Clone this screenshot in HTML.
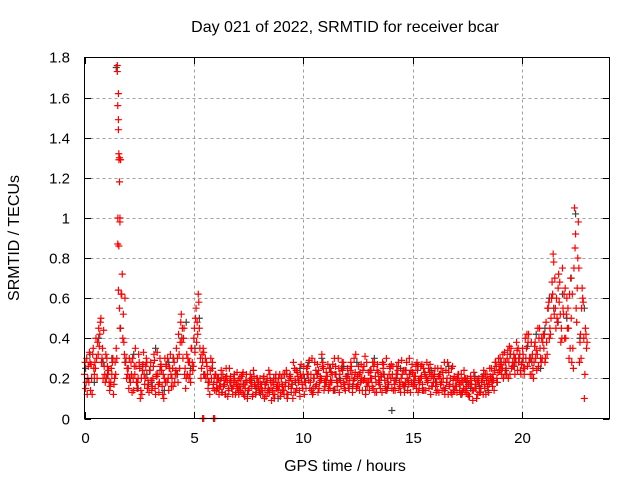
<!DOCTYPE html>
<html><head><meta charset="utf-8"><style>
body{margin:0;background:#fff;}
svg{display:block;font-family:"Liberation Sans",sans-serif;}
</style></head><body>
<svg id="chart" width="640" height="480" viewBox="0 0 640 480">
<rect width="640" height="480" fill="#fff"/>
<g id="grid"></g>
<g id="gray"></g>
<g id="red"></g>
<rect x="84.5" y="57.5" width="525" height="361" fill="none" stroke="#000" stroke-width="1"/>
<g id="ticks"></g>
<text x="345" y="32" font-size="16" text-anchor="middle">Day 021 of 2022, SRMTID for receiver bcar</text>
<text x="345" y="471" font-size="16" text-anchor="middle">GPS time / hours</text>
<text x="19" y="238" font-size="16" text-anchor="middle" transform="rotate(-90 19 238)">SRMTID / TECUs</text>
</svg>
<script>
const xTicks=[0,5,10,15,20];
const xTickLabels=["0","5","10","15","20"];
const yTicks=[0,0.2,0.4,0.6,0.8,1,1.2,1.4,1.6,1.8];
const yTickLabels=["0","0.2","0.4","0.6","0.8","1","1.2","1.4","1.6","1.8"];
const stepA=0.1;
const seriesA=[.22,.30,.18,.27,.35,.25,.38,.42,.30,.26,
.20,.24,.18,.30,.28,1.76,.55,.62,.38,.30,
.25,.18,.30,.22,.15,.28,.20,.33,.26,.19,
.24,.16,.29,.21,.13,.27,.22,.18,.30,.25,
.20,.28,.35,.42,.48,.30,.25,.22,.28,.35,
.40,.55,.62,.30,.28,.22,.26,.18,.20,.17,
.22,.15,.19,.13,.17,.21,.14,.18,.16,.12,
.15,.20,.13,.17,.22,.14,.18,.12,.16,.20,
.13,.17,.21,.11,.15,.19,.14,.12,.18,.16,
.20,.14,.18,.12,.22,.17,.25,.15,.19,.27,
.22,.18,.26,.15,.30,.20,.17,.24,.19,.28,
.16,.21,.25,.18,.14,.22,.30,.19,.24,.17,
.21,.15,.26,.19,.32,.17,.23,.14,.20,.28,
.18,.24,.15,.21,.27,.19,.13,.22,.30,.17,
.20,.26,.14,.22,.18,.29,.16,.24,.19,.13,
.23,.17,.28,.15,.21,.25,.14,.19,.27,.16,
.22,.18,.13,.25,.20,.15,.28,.17,.12,.21,
.16,.22,.12,.19,.14,.20,.11,.17,.23,.15,
.18,.13,.20,.15,.22,.17,.25,.19,.28,.23,
.30,.25,.33,.22,.28,.35,.26,.30,.24,.32,
.28,.22,.35,.42,.30,.25,.38,.32,.45,.40,
.35,.48,.55,.42,.62,.70,.50,.58,.45,.52,
.40,.55,.35,.62,1.05,.48,.75,.30,.58,.45];
const seriesB=[.15,.20,.28,.12,.22,.30,.45,.50,.20,.18,
.26,.14,.22,.17,.35,1.62,1.29,.40,.60,.25,
.30,.22,.14,.26,.20,.10,.24,.17,.28,.13,
.19,.26,.12,.22,.30,.16,.20,.27,.14,.22,
.16,.22,.30,.25,.38,.45,.20,.28,.18,.24,
.33,.48,.45,.25,.33,.20,.15,.24,.28,.14,
.18,.12,.24,.16,.20,.11,.19,.15,.22,.17,
.12,.17,.23,.15,.10,.19,.16,.21,.13,.18,
.17,.12,.15,.20,.13,.09,.17,.22,.14,.11,
.14,.22,.12,.19,.15,.28,.13,.21,.11,.17,
.12,.25,.19,.22,.13,.16,.27,.18,.32,.14,
.23,.14,.19,.27,.22,.16,.13,.25,.18,.21,
.17,.24,.13,.20,.16,.22,.27,.19,.12,.18,
.23,.16,.28,.13,.19,.22,.25,.16,.20,.26,
.15,.19,.22,.28,.13,.17,.24,.20,.30,.18,
.19,.26,.13,.20,.17,.23,.28,.15,.21,.18,
.16,.25,.20,.14,.28,.18,.23,.13,.19,.16,
.20,.14,.18,.24,.13,.17,.21,.09,.15,.19,
.13,.18,.24,.12,.19,.21,.16,.24,.20,.26,
.24,.20,.28,.34,.22,.26,.30,.38,.28,.22,
.32,.40,.26,.30,.22,.28,.34,.26,.30,.38,
.28,.32,.40,.60,.78,.45,.65,.52,.75,.40,
.60,.30,.50,.25,.92,.80,.38,.65,.10,.35];
const seriesC=[.28,.12,.33,.20,.25,.40,.32,.48,.35,.22,
.30,.18,.25,.12,.22,1.00,.45,.72,.32,.20,
.15,.28,.20,.35,.18,.25,.12,.22,.30,.17,
.28,.20,.15,.33,.18,.24,.10,.26,.20,.32,
.25,.18,.22,.32,.52,.40,.15,.30,.22,.28,
.45,.38,.58,.20,.35,.30,.22,.12,.25,.20,
.14,.20,.16,.22,.12,.18,.25,.15,.20,.13,
.19,.14,.22,.11,.18,.15,.20,.24,.12,.16,
.20,.14,.10,.18,.24,.15,.12,.20,.16,.22,
.17,.12,.24,.16,.20,.10,.19,.23,.14,.20,
.26,.15,.22,.18,.12,.28,.22,.15,.20,.25,
.19,.27,.15,.22,.30,.19,.25,.16,.28,.14,
.25,.19,.22,.30,.15,.26,.18,.24,.31,.16,
.14,.20,.26,.18,.23,.15,.28,.19,.14,.22,
.27,.14,.19,.24,.16,.22,.13,.28,.17,.24,
.16,.21,.24,.18,.27,.14,.20,.25,.12,.22,
.25,.14,.22,.18,.15,.24,.12,.20,.26,.14,
.13,.18,.22,.15,.20,.12,.17,.14,.20,.10,
.20,.15,.12,.22,.16,.25,.18,.14,.26,.30,
.27,.32,.22,.30,.36,.25,.32,.28,.35,.24,
.35,.25,.42,.28,.38,.20,.30,.45,.35,.30,
.42,.38,.58,.50,.82,.55,.48,.68,.40,.62,
.52,.45,.70,.35,.85,.65,.28,.55,.40,.42];
const seriesD=[.18,.26,.14,.32,.28,.20,.36,.28,.44,.32,
.22,.16,.28,.20,.30,1.29,.62,.52,.28,.22,
.20,.13,.26,.18,.32,.14,.27,.20,.15,.24,
.14,.32,.22,.17,.26,.12,.30,.18,.25,.16,
.30,.24,.18,.38,.45,.22,.32,.20,.35,.26,
.50,.42,.35,.32,.22,.28,.18,.30,.15,.22,
.20,.16,.13,.19,.25,.15,.21,.12,.18,.23,
.16,.21,.12,.19,.14,.22,.11,.17,.20,.14,
.15,.20,.17,.13,.22,.18,.10,.15,.20,.13,
.22,.16,.10,.21,.17,.13,.24,.18,.22,.15,
.18,.22,.29,.14,.20,.24,.13,.21,.26,.18,
.21,.17,.23,.14,.26,.18,.22,.28,.15,.20,
.15,.28,.17,.23,.21,.14,.20,.26,.18,.23,
.20,.28,.13,.24,.17,.21,.27,.14,.18,.25,
.22,.17,.26,.15,.20,.24,.18,.14,.22,.27,
.21,.15,.19,.26,.14,.22,.18,.23,.16,.20,
.13,.21,.17,.23,.12,.20,.16,.25,.14,.19,
.22,.17,.13,.20,.16,.11,.19,.14,.17,.12,
.15,.21,.17,.19,.13,.20,.22,.28,.18,.24,
.22,.28,.25,.20,.32,.28,.22,.34,.30,.27,
.25,.30,.38,.22,.32,.36,.24,.40,.28,.42,
.30,.55,.45,.68,.52,.60,.72,.38,.55,.65,
.45,.62,.28,.75,.55,.98,.42,.60,.22,.38];
const extraT=[1.5,1.52,1.55,1.55,1.57,1.6,1.6,1.62,1.62,1.52,1.57,1.55,5.4,5.9,5.45,5.95];
const extraV=[1.73,1.56,1.49,1.44,1.32,1.30,1.18,1.0,0.98,0.87,0.86,0.64,0,0,0,0];
const stepG=0.2;
const grayV=[.25,.32,.18,.40,.28,.22,.30,1.75,.45,.28,
.20,.32,.15,.26,.22,.18,.35,.24,.14,.28,
.30,.22,.40,.48,.25,.35,.50,.22,.18,.25,
.15,.20,.12,.18,.22,.14,.17,.12,.19,.15,
.12,.18,.14,.20,.10,.16,.22,.13,.18,.25,
.20,.28,.15,.22,.30,.18,.25,.14,.20,.26,
.22,.16,.28,.19,.14,.24,.30,.18,.22,.15,
.04,.20,.25,.16,.22,.18,.26,.14,.20,.24,
.18,.22,.14,.26,.16,.20,.12,.18,.15,.21,
.16,.22,.14,.20,.18,.28,.24,.32,.26,.30,
.30,.36,.28,.42,.25,.45,.60,.55,.48,.62,
.50,.70,1.02,.40,.55];
const NS="http://www.w3.org/2000/svg";
function X(t){return 84.5+t*525/24;}
function Y(v){return 418.5-v*361/1.8;}
function mk(tag,attrs,parent){const e=document.createElementNS(NS,tag);for(const k in attrs)e.setAttribute(k,attrs[k]);parent.appendChild(e);return e;}
const grid=document.getElementById('grid'),ticks=document.getElementById('ticks');
xTicks.forEach((t,i)=>{
  const x=Math.round(X(t))+0.5;
  if(t>0){const g=mk('line',{x1:x,x2:x,y1:57.5,y2:418.5,stroke:'#a0a0a0','stroke-dasharray':'3,3'},grid);
  
  }
  mk('line',{x1:x,x2:x,y1:418.5,y2:412,stroke:'#000'},ticks);
  mk('line',{x1:x,x2:x,y1:57.5,y2:64,stroke:'#000'},ticks);
  const l=mk('text',{x:x,y:443,'font-size':15,'text-anchor':'middle'},ticks);
  l.textContent=xTickLabels[i];
  
  
});
yTicks.forEach((v,i)=>{
  const y=Math.round(Y(v))+0.5;
  if(v>0&&v<1.8){const g=mk('line',{x1:84.5,x2:609.5,y1:y,y2:y,stroke:'#a0a0a0','stroke-dasharray':'3,3'},grid);
  
  }
  mk('line',{x1:84.5,x2:91,y1:y,y2:y,stroke:'#000'},ticks);
  mk('line',{x1:603,x2:609.5,y1:y,y2:y,stroke:'#000'},ticks);
  const l=mk('text',{x:70,y:y+5,'font-size':15,'text-anchor':'end'},ticks);
  l.textContent=yTickLabels[i];
  
  
});
function plus(t,v,color,parent){
  const x=X(t),y=Y(v);
  const p=mk('path',{d:`M${x-3.5} ${y}H${x+3.5}M${x} ${y-3.5}V${y+3.5}`,stroke:color,'stroke-width':1.2,fill:'none'},parent);
  
  
}
const gG=document.getElementById('gray'),gR=document.getElementById('red');
grayV.forEach((v,i)=>plus(i*stepG+0.05,v,'#404040',gG));
seriesA.forEach((v,i)=>plus(i*stepA,v,'#ff0000',gR));
seriesB.forEach((v,i)=>plus(i*stepA+0.05,v,'#ff0000',gR));
seriesC.forEach((v,i)=>plus(i*stepA+0.025,v,'#ff0000',gR));
seriesD.forEach((v,i)=>plus(i*stepA+0.075,v,'#ff0000',gR));
extraT.forEach((t,i)=>plus(t,extraV[i],'#ff0000',gR));
</script>
</body></html>
